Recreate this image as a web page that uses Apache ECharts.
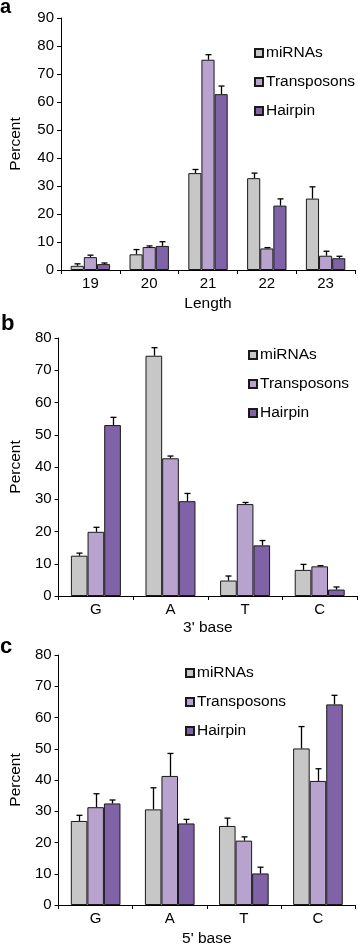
<!DOCTYPE html>
<html>
<head>
<meta charset="utf-8">
<script src="https://cdn.jsdelivr.net/npm/echarts@6/dist/echarts.min.js"></script>
<style>
html,body{margin:0;padding:0;background:#fff;}
#c{width:358px;height:948px;}
</style>
</head>
<body>
<div id="c"></div>
<script>
var seriesNames = ['miRNAs', 'Transposons', 'Hairpin'];
var colors = ['#c7c7c7', '#b7a3cd', '#8062a6'];

// Panel a: length
var lengthCats = ['19', '20', '21', '22', '23'];
var aMirna = [1.5, 5.6, 34.6, 32.8, 25.5];
var aMirnaErr = [0.7, 1.7, 1.3, 1.8, 4.2];
var aTrans = [4.6, 8.2, 75.1, 7.7, 5.1];
var aTransErr = [0.7, 0.4, 1.8, 0.3, 1.6];
var aHair = [2.1, 8.6, 62.8, 23.0, 4.2];
var aHairErr = [0.4, 1.5, 2.9, 2.4, 0.7];

// Panel b: 3' base
var baseCats = ['G', 'A', 'T', 'C'];
var bMirna = [12.5, 74.5, 4.8, 8.1];
var bMirnaErr = [0.8, 2.5, 1.4, 1.7];
var bTrans = [19.9, 42.7, 28.5, 9.2];
var bTransErr = [1.4, 0.7, 0.5, 0.2];
var bHair = [53.0, 29.4, 15.7, 2.0];
var bHairErr = [2.4, 2.4, 1.5, 0.8];

// Panel c: 5' base
var cMirna = [26.9, 30.6, 25.3, 50.1];
var cMirnaErr = [1.8, 6.9, 2.5, 7.0];
var cTrans = [31.3, 41.3, 20.6, 39.7];
var cTransErr = [4.3, 7.2, 1.2, 3.9];
var cHair = [32.5, 26.1, 10.1, 64.2];
var cHairErr = [1.1, 1.3, 2.0, 2.9];

var FONT = 'Liberation Sans, Arial, Helvetica, sans-serif';
var GAP = 0.33;

var panels = [
  {cats: lengthCats, vals: [aMirna, aTrans, aHair], errs: [aMirnaErr, aTransErr, aHairErr],
   grid: {left: 57, right: 3, top: 18, height: 252}, max: 90, xName: 'Length', xGap: 26, yGap: 37,
   legend: {left: 254, top: 45}},
  {cats: baseCats, vals: [bMirna, bTrans, bHair], errs: [bMirnaErr, bTransErr, bHairErr],
   grid: {left: 52, right: 1, top: 338, height: 258}, max: 80, xName: "3' base", xGap: 24, yGap: 32,
   legend: {left: 248, top: 347}},
  {cats: baseCats, vals: [cMirna, cTrans, cHair], errs: [cMirnaErr, cTransErr, cHairErr],
   grid: {left: 52, right: 3, top: 655, height: 254}, max: 80, xName: "5' base", xGap: 26, yGap: 32,
   legend: {left: 185, top: 665}}
];

var grids = [], xAxes = [], yAxes = [], series = [], legends = [];
panels.forEach(function (p, pi) {
  grids.push(p.grid);
  xAxes.push({
    type: 'category', gridIndex: pi, data: p.cats,
    name: p.xName, nameLocation: 'middle', nameGap: p.xGap,
    nameTextStyle: {fontFamily: FONT, fontSize: 15.5, color: '#000'},
    axisLine: {lineStyle: {color: '#000', width: 1}},
    axisTick: {show: true, length: 4, lineStyle: {color: '#000'}},
    axisLabel: {fontFamily: FONT, fontSize: 15, color: '#000', margin: 6}
  });
  yAxes.push({
    type: 'value', gridIndex: pi, min: 0, max: p.max, interval: 10,
    name: 'Percent', nameLocation: 'middle', nameGap: p.yGap, nameRotate: 90,
    nameTextStyle: {fontFamily: FONT, fontSize: 15.5, color: '#000'},
    axisLine: {show: true, lineStyle: {color: '#000', width: 1}},
    axisTick: {show: true, length: 4, lineStyle: {color: '#000'}},
    splitLine: {show: false},
    axisLabel: {fontFamily: FONT, fontSize: 15, color: '#000', margin: 7}
  });
  legends.push({
    orient: 'vertical', left: p.legend.left, top: p.legend.top, padding: 0,
    itemWidth: 8, itemHeight: 8, itemGap: 13, icon: 'rect',
    data: seriesNames,
    textStyle: {fontFamily: FONT, fontSize: 15.5, color: '#000', padding: [0, 0, 0, -2]}
  });
  p.vals.forEach(function (vals, si) {
    series.push({
      type: 'bar', name: seriesNames[si], xAxisIndex: pi, yAxisIndex: pi,
      data: vals, barGap: '0%', barCategoryGap: (GAP * 100) + '%',
      itemStyle: {color: colors[si], borderColor: '#1a1a1a', borderWidth: 1},
      emphasis: {disabled: true}, animation: false
    });
  });
  p.vals.forEach(function (vals, si) {
    var data = vals.map(function (v, i) { return [i, v, v + p.errs[si][i]]; });
    series.push({
      type: 'custom', name: seriesNames[si], xAxisIndex: pi, yAxisIndex: pi,
      data: data, z: 5, animation: false, silent: true,
      renderItem: (function (sIdx) {
        return function (params, api) {
          var c = api.value(0);
          var base = api.coord([c, api.value(1)]);
          var top = api.coord([c, api.value(2)]);
          var band = api.size([1, 0])[0];
          var bw = band * (1 - GAP) / 3;
          var x = Math.round(base[0] + (sIdx - 1) * bw) + 0.5;
          var style = {stroke: '#000', lineWidth: 1.3, fill: null};
          return {
            type: 'group',
            children: [
              {type: 'line', shape: {x1: x, y1: base[1], x2: x, y2: top[1]}, style: style},
              {type: 'line', shape: {x1: x - 3, y1: top[1], x2: x + 3, y2: top[1]}, style: style}
            ]
          };
        };
      })(si)
    });
  });
});

var chart = echarts.init(document.getElementById('c'), null, {renderer: 'canvas'});
chart.setOption({
  animation: false,
  grid: grids, xAxis: xAxes, yAxis: yAxes, series: series, legend: legends,
  graphic: [
    {type: 'text', left: 0, top: -3, style: {text: 'a', font: 'bold 20px ' + FONT, fill: '#000'}},
    {type: 'text', left: 1, top: 313, style: {text: 'b', font: 'bold 22px ' + FONT, fill: '#000'}},
    {type: 'text', left: 0, top: 636, style: {text: 'c', font: 'bold 22px ' + FONT, fill: '#000'}}
  ]
});
</script>
</body>
</html>
